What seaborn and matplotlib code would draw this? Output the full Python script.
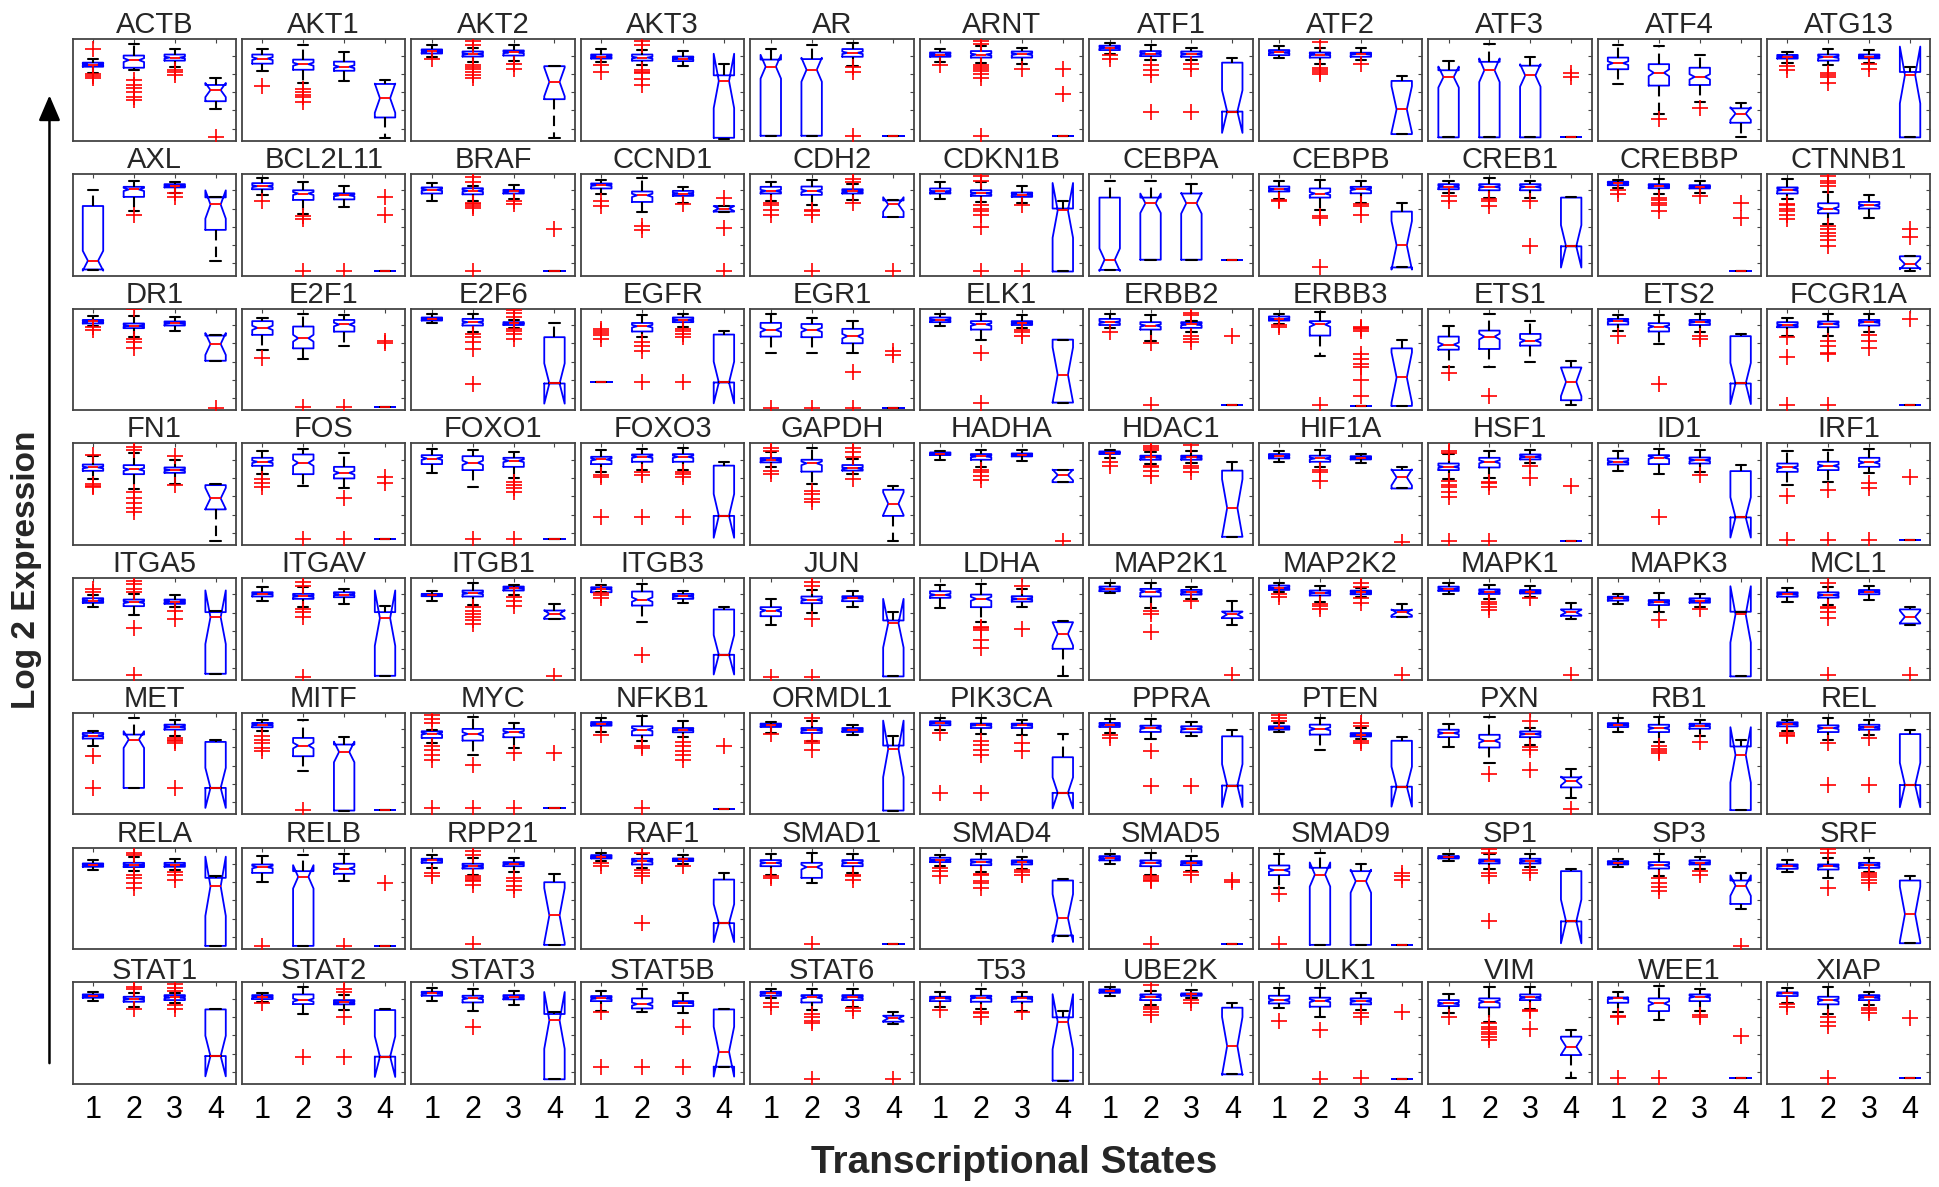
import matplotlib
matplotlib.use("Agg")
import matplotlib.pyplot as plt
from matplotlib.patches import FancyArrowPatch
import pandas as pd
import seaborn as sns

GENES = ["ACTB", "AKT1", "AKT2", "AKT3", "AR", "ARNT", "ATF1", "ATF2", "ATF3", "ATF4", "ATG13",
         "AXL", "BCL2L11", "BRAF", "CCND1", "CDH2", "CDKN1B", "CEBPA", "CEBPB", "CREB1", "CREBBP", "CTNNB1",
         "DR1", "E2F1", "E2F6", "EGFR", "EGR1", "ELK1", "ERBB2", "ERBB3", "ETS1", "ETS2", "FCGR1A",
         "FN1", "FOS", "FOXO1", "FOXO3", "GAPDH", "HADHA", "HDAC1", "HIF1A", "HSF1", "ID1", "IRF1",
         "ITGA5", "ITGAV", "ITGB1", "ITGB3", "JUN", "LDHA", "MAP2K1", "MAP2K2", "MAPK1", "MAPK3", "MCL1",
         "MET", "MITF", "MYC", "NFKB1", "ORMDL1", "PIK3CA", "PPRA", "PTEN", "PXN", "RB1", "REL",
         "RELA", "RELB", "RPP21", "RAF1", "SMAD1", "SMAD4", "SMAD5", "SMAD9", "SP1", "SP3", "SRF",
         "STAT1", "STAT2", "STAT3", "STAT5B", "STAT6", "T53", "UBE2K", "ULK1", "VIM", "WEE1", "XIAP"]

STATES = ["1", "2", "3", "4"]
# estimated number of cells per transcriptional state (sets the notch depth)
N_CELLS = [101, 101, 101, 13]

# five-number summaries (lower whisker, Q1, median, Q3, upper whisker), % of each panel's range
BOX_S1 = [
    (67, 73, 75, 77, 81), (69, 76, 81, 85, 90), (83, 86, 88, 90, 94), (78, 81, 83, 85, 90), (5, 5, 73, 80, 90.4),
    (78, 82.8, 85, 87, 90), (86, 89.4, 91.7, 93.7, 96), (81.8, 84.4, 87, 89.4, 93), (3.4, 3.4, 62.8, 69.5, 79),
    (56.4, 70.5, 76.5, 82, 94.6), (77, 81, 83, 84.6, 87),
    (5, 6, 14.6, 68.5, 84.4), (79, 85, 88, 91, 95.7), (73.5, 80.8, 84.4, 86.8, 91), (80.8, 85.8, 89, 90.7, 94),
    (73.5, 80.8, 83.4, 87.4, 91.7), (75, 80.8, 82.8, 85.8, 91.7), (5.6, 5.6, 15.6, 76.8, 92.7), (75, 82.8, 85, 87.7, 93.4),
    (81.8, 85, 87.7, 90, 93.4), (85.8, 89, 90.7, 92.4, 94.4), (75, 80.8, 84.4, 86.8, 95),
    (83.5, 85.5, 87.5, 89, 92.4), (59.7, 74.3, 81.2, 87.8, 91), (85.8, 88.4, 90, 91.4, 94.4), (27.4, 27.4, 27.4, 27.4, 27.4),
    (56.4, 72.6, 79.2, 86.1, 94.4), (83.5, 86.8, 89, 91.4, 95), (80.9, 84, 86.8, 90, 95), (85, 88.4, 90, 92.4, 95),
    (42.2, 59.7, 64.7, 72.6, 83.5), (78.5, 84.5, 88.1, 90, 94), (73.6, 81.8, 84, 86.8, 91),
    (64.6, 73.1, 76.4, 79.3, 87.9), (69.8, 78, 82, 85.9, 92.5), (70.5, 79.7, 85.2, 88.5, 95), (72.1, 79.7, 84.3, 86.9, 94),
    (76.5, 81.4, 83.7, 85.7, 91.2), (84, 88.6, 89.9, 91.2, 92.8), (85.7, 89.6, 90.9, 92.2, 93.8), (82, 85.3, 87.3, 89.6, 92.8),
    (64.6, 73.8, 77, 80.3, 89.2), (72.8, 79.3, 82, 85.2, 92.5), (59, 72.1, 76.4, 80.3, 92.8),
    (71.5, 75.7, 78, 80.3, 83.6), (78, 82, 84.6, 86.2, 91.8), (78, 82.3, 83.6, 84.6, 87.2), (86.2, 86.2, 89.5, 91.1, 93.8),
    (54.4, 62.6, 68.2, 71.5, 79.7), (70.5, 80.7, 83.6, 87.2, 93.4), (85.2, 87.2, 89.5, 91.8, 95), (86.2, 88.5, 90.5, 92.8, 95),
    (84.5, 87.5, 89.4, 91.7, 95.7), (74.6, 77.9, 80.2, 81.8, 84.2), (76.9, 81.8, 84.2, 86.1, 90),
    (67.9, 74.8, 77.7, 80.3, 82), (82, 85.9, 88.5, 90.2, 93.4), (70.5, 75.4, 79.7, 82, 83.6), (81.3, 87.5, 89.2, 91.1, 95),
    (80.3, 86.2, 87.9, 89.5, 90.8), (83, 87.9, 90.2, 91.8, 95), (80.3, 86.2, 88.5, 90.2, 94.1), (81, 83.6, 85.2, 86.9, 90.2),
    (66, 76.2, 80.2, 83.5, 89.1), (80.9, 86.1, 88.4, 90, 95), (81.8, 86.8, 89.1, 90.8, 93.4),
    (78.5, 81.2, 82.8, 84.5, 87.5), (66, 75.2, 80.9, 83.5, 91.7), (80.2, 85.1, 87.5, 89.1, 92.4), (86.8, 89.4, 91.1, 92.7, 94.4),
    (73.6, 81.8, 85.1, 87.8, 94), (81.8, 85.8, 87.5, 90.1, 92.7), (84.2, 87.5, 89.4, 91.7, 93.4), (60.4, 73, 77.9, 82.5, 94),
    (86.8, 89.4, 90.8, 91.7, 93.4), (80.9, 83.5, 85.1, 86.8, 88.4), (75.9, 79.2, 81.8, 83.5, 87.5),
    (81.6, 84.9, 86.6, 88.2, 90.2), (81, 83.6, 85.9, 87.5, 89.8), (82, 86.9, 89.2, 90.8, 95), (71.8, 81.6, 84.3, 86.6, 91.8),
    (84.3, 86.9, 89.2, 90.8, 93.4), (76.1, 81.6, 84.3, 85.9, 90.2), (86.6, 89.8, 91.5, 93.1, 95.7), (74.4, 79.3, 82.6, 86.9, 94.8),
    (69.5, 76.7, 79.3, 82.6, 88.5), (71.1, 80, 84.3, 85.2, 90.2), (80, 86.6, 89.2, 90.2, 94.8),
]
BOX_S2 = [
    (70, 72, 79.5, 84, 95), (57, 70, 75.5, 80, 94), (78, 83, 85.5, 88, 91), (74.5, 79, 82, 85, 89.5), (5, 5, 70, 80.5, 94.4),
    (77, 82, 85, 88.4, 93.4), (79.5, 83.4, 86, 88.4, 94.4), (75.5, 82, 85, 87, 91.7), (3.4, 3.4, 69.5, 77.8, 95),
    (26.8, 54.4, 67, 75.5, 93.6), (74.5, 79, 82.5, 85, 90),
    (63.6, 77.5, 84.8, 87.4, 93.4), (61, 74.5, 80.8, 84, 91.7), (73.5, 80, 83.4, 86, 88.4), (63, 72.5, 79, 82.8, 96),
    (69.5, 79.5, 83.4, 87.7, 94), (72.5, 78.5, 81, 84, 91.7), (15.6, 15.6, 71.2, 76.8, 93.4), (64.2, 76.8, 80.8, 85.8, 94.4),
    (76.8, 84, 87.4, 90, 95.7), (80.8, 86, 88, 90, 95), (50.3, 61.3, 66, 71.2, 82.5),
    (72, 80.9, 83.2, 85.5, 93), (51, 61, 71, 82.5, 94.4), (77.5, 83.5, 86.8, 90, 94.4), (72, 77.6, 82.8, 86, 94),
    (56.4, 72, 79.2, 85, 91), (69.6, 79.5, 84.5, 87.8, 95), (68.6, 79.5, 83.5, 86.8, 94), (53.1, 73.6, 84.5, 87.8, 96.7),
    (42.2, 60.4, 72.6, 78.5, 94.4), (65.3, 77.6, 82.5, 85.8, 94), (73.6, 81.8, 85.1, 87.5, 94.4),
    (55.1, 69.8, 74.4, 78.7, 90.2), (58, 69.8, 81, 89.2, 94.4), (57.4, 73.8, 81, 87.5, 93.4), (73.8, 82, 86.9, 89.2, 94.4),
    (60.3, 72.3, 80.5, 84, 96), (76.5, 84, 87.3, 89.6, 93.8), (79.8, 84, 86.3, 88, 92), (76.5, 82, 85.3, 88, 93.8),
    (65.6, 76.4, 82, 85.9, 92.5), (69.5, 79.7, 86.2, 88.5, 95), (62.3, 73.8, 78, 82, 93.4),
    (63.3, 72.5, 76.4, 79, 84), (71.5, 79.7, 82.3, 84.6, 91.8), (73.8, 82, 85.2, 87.9, 95), (56.7, 73.1, 79, 86.9, 94.4),
    (65.9, 75.4, 78.7, 82, 88.5), (56.7, 71.5, 79.7, 83.9, 94.4), (70.5, 82, 86.9, 89.5, 95), (76.4, 83, 85.6, 87.9, 92.8),
    (79.5, 84.5, 86.8, 89, 93.4), (67, 73.6, 76.2, 78.5, 85.1), (73.6, 80.9, 83.5, 86.1, 91.7),
    (26.2, 26.2, 73.8, 78.7, 95), (42.6, 57.4, 67.9, 75.4, 93.4), (59, 72.8, 79.3, 84.3, 95.7), (72.1, 78, 83.6, 86.9, 96.7),
    (72.8, 80.3, 83, 85.2, 91.8), (79.3, 85.2, 87.9, 89.5, 95), (74.4, 81.3, 85.2, 87.5, 94.1), (63.9, 78.7, 84.3, 88.5, 95),
    (51.2, 66, 72.6, 78.5, 96), (71, 81.2, 85.1, 88.4, 96), (72.9, 81.2, 85.1, 87.8, 95),
    (76.9, 80.9, 82.8, 85.1, 90.8), (3.3, 3.3, 71.3, 76.9, 92.7), (73.6, 79.5, 81.8, 84.2, 90.1), (80.2, 83.5, 86.8, 89.1, 93.4),
    (65.3, 70.3, 80.9, 85.1, 95), (75.9, 82.8, 85.8, 88.4, 94), (73.6, 81.8, 85.1, 87.5, 95), (4.3, 4.3, 73.6, 80.2, 95),
    (79.2, 84.5, 86.8, 88.4, 94), (72, 79.5, 82.8, 85.8, 93.4), (70.3, 78.5, 81.8, 83.5, 89.4),
    (76.1, 81, 83.6, 85.9, 89.8), (68.9, 78.7, 82.6, 88.2, 95.7), (71.8, 80.3, 84.3, 86.9, 93.4), (71.1, 74.4, 78.7, 84.3, 93.4),
    (72.8, 80.3, 85.2, 87.5, 93.4), (73.8, 81, 84.9, 86.9, 93.4), (77.7, 82.6, 85.9, 88.2, 91.5), (65.6, 76.1, 82, 85, 94.8),
    (61.3, 75.4, 81, 84.3, 95.7), (62.9, 71.8, 79.3, 84.3, 96.4), (68.9, 78.4, 82.6, 85.9, 95.7),
]
BOX_S3 = [
    (73, 79, 82, 85, 90), (59, 69, 73, 78, 87), (79, 84, 87, 89, 94), (74, 78.5, 81, 83, 88), (73.5, 82.8, 86.7, 90.4, 96),
    (76, 82, 85.4, 88, 91), (79.5, 82.8, 85.4, 88, 91.7), (79.5, 82.8, 85.4, 86.8, 91.7), (3.4, 3.4, 64.4, 74, 83),
    (38.6, 55, 63, 72, 85), (77, 81.2, 83, 85, 89),
    (81.8, 86.8, 88, 90, 92.4), (68, 75, 79, 81, 88.4), (75, 80.8, 82.8, 84.4, 89), (71.8, 78.5, 80.8, 83.4, 86.8),
    (74.5, 80.8, 82.8, 85, 90), (71.8, 77.5, 79.8, 81.8, 88.4), (15.6, 15.6, 71.2, 80.8, 90), (71.8, 81, 85, 87.4, 93.4),
    (76.8, 84, 87.4, 90, 93.4), (81, 85.8, 87.4, 89, 92.7), (56.3, 66, 69.2, 72.5, 79.5),
    (78.5, 83.5, 85.8, 87.5, 92), (63, 77.5, 84.5, 89, 93.4), (81.2, 84, 85.8, 86.8, 89), (82, 86.8, 89, 91.4, 95),
    (56.4, 66, 73, 80.2, 88.4), (80.9, 84, 86.1, 87.8, 93.4), (77, 81.2, 84.5, 86.8, 88.4), (4.3, 4.3, 4.3, 4.3, 4.3),
    (47.2, 63.7, 68.6, 75.2, 87.8), (77, 84, 86.8, 89, 95), (77, 83.5, 86.8, 89, 94.4),
    (59.7, 71.1, 73.8, 76.4, 83.6), (55.8, 65.6, 71.1, 77, 90.2), (65.6, 77, 83, 85.9, 91.8), (73.8, 82, 86.9, 89.5, 95.7),
    (70, 73.3, 75.6, 78.8, 84.7), (83, 87.3, 88.6, 90.2, 93.8), (80.5, 84, 86.3, 88, 92.8), (80.3, 84.3, 86, 87.5, 90),
    (80.3, 84.3, 86.9, 89.2, 93.4), (72.1, 80.3, 83.6, 86.2, 93.4), (70.5, 77, 81.3, 85.9, 95),
    (71.5, 74.8, 77, 79, 83), (74.8, 81.3, 83.9, 86.2, 89.5), (83.6, 87.9, 90.2, 91.8, 93.8), (75.4, 79.7, 82.3, 84.6, 87.9),
    (71.5, 77.4, 80.3, 82.3, 87.2), (71.5, 77, 79.7, 82.3, 89.5), (79.7, 83.9, 86.2, 88.5, 91.8), (81.8, 84.2, 86.1, 87.8, 90.8),
    (81.8, 85, 86.8, 88.4, 92.4), (72, 75.9, 77.9, 80.2, 84.2), (78.5, 84.2, 86.8, 88.4, 92.4),
    (77, 83.6, 86.2, 88.5, 93.4), (3.9, 3.9, 61.6, 68.9, 76.1), (65.6, 76.1, 81, 84.3, 90.2), (76.1, 81, 83.6, 85.2, 91.8),
    (78, 81.3, 83.6, 85.2, 88.5), (78.7, 85.2, 87.9, 89.5, 93.1), (77, 81, 84.3, 86.9, 90.8), (74.6, 76.9, 78.5, 80.2, 85.2),
    (68.6, 76.2, 79.2, 81.8, 85.2), (76.9, 84.5, 87.5, 89.4, 92.7), (77.9, 83.5, 85.8, 88.4, 93.4),
    (78.5, 81.2, 82.8, 85.1, 88.4), (67, 74.3, 79.5, 84.2, 94), (75.9, 81.8, 84.2, 85.8, 89.4), (84.2, 86.8, 88.4, 89.4, 92.4),
    (75.2, 81.8, 85.1, 87.8, 94), (79.2, 83.5, 85.8, 87.5, 90.8), (76.9, 82.8, 85.1, 86.8, 91.7), (4.3, 4.3, 67, 76.9, 84.2),
    (80.9, 84.5, 86.8, 89.1, 94), (79.5, 83.5, 85.1, 87.5, 90.8), (75.9, 80.2, 82.8, 85.1, 89.4),
    (80, 82.6, 85.2, 87.5, 89.8), (72.8, 78.4, 80.3, 82.6, 87.5), (77.7, 83.3, 85.2, 87.5, 91.8), (69.5, 76.7, 80, 81.6, 89.8),
    (76.1, 82.6, 85.2, 87.5, 93.4), (71.8, 81, 84.3, 85.9, 90.2), (84.3, 86.9, 88.2, 89.2, 92.5), (72.8, 78.4, 81.6, 84.3, 89.8),
    (73.4, 82.6, 85.2, 88.2, 95.7), (71.8, 81.6, 85.9, 88.2, 93.4), (77.7, 82.6, 85.2, 87.5, 90.8),
]
BOX_S4 = [
    (31, 39, 50, 55, 62), (3, 23, 42, 56, 60), (3, 41, 58, 73.5, 73.5), (2, 3, 59, 64.5, 75.5), (5, 5, 5, 5, 5),
    (5, 5, 5, 5, 5), (28.8, 28.8, 28.8, 77, 81.8), (6.6, 6.6, 31, 59, 64), (3.4, 3.4, 3.4, 3.4, 3.4),
    (4, 17.8, 26.8, 32, 37.6), (3.4, 3.4, 64.8, 67.8, 72.8),
    (14, 45, 70, 77, 77.5), (4.6, 4.6, 4.6, 4.6, 4.6), (4.6, 4.6, 4.6, 4.6, 4.6), (63, 63, 66, 68.5, 68.5),
    (57.6, 57.6, 70, 74, 74), (4, 4, 64.2, 66, 73.5), (15.6, 15.6, 15.6, 15.6, 15.6), (8, 8, 29.8, 63, 71),
    (28.8, 28.8, 28.8, 76.8, 77.5), (4.6, 4.6, 4.6, 4.6, 4.6), (4, 7.3, 11.3, 19, 19),
    (48.8, 48.8, 65.3, 73.6, 74), (3.6, 3.6, 3.6, 3.6, 3.6), (26.4, 26.4, 26.4, 72, 86), (27.4, 27.4, 27.4, 74.6, 78.5),
    (2.6, 2.6, 2.6, 2.6, 2.6), (7.6, 7.6, 35, 69.6, 69.6), (5, 5, 5, 5, 5), (4.3, 4.3, 32.3, 61, 69.3),
    (5, 9.9, 28, 42.2, 48.8), (26.4, 26.4, 26.4, 73, 75.2), (5, 5, 5, 5, 5),
    (4.3, 35.1, 45.9, 59, 59.7), (5.6, 5.6, 5.6, 5.6, 5.6), (5.6, 5.6, 5.6, 5.6, 5.6), (28.7, 28.7, 28.7, 78.2, 81.4),
    (4.2, 28.7, 40.7, 54.4, 57.7), (61.9, 61.9, 69, 74, 74.3), (8.1, 8.1, 36.5, 73.3, 82), (55.7, 55.7, 66.6, 73.8, 77),
    (4.3, 4.3, 4.3, 4.3, 4.3), (27.2, 27.2, 27.2, 72.8, 79.3), (4.9, 4.9, 4.9, 4.9, 4.9),
    (5.9, 5.9, 61.6, 66.6, 67.9), (3.9, 3.9, 60.7, 66.6, 72.5), (60, 60, 64.9, 68.2, 74.8), (24.6, 24.6, 24.6, 69.2, 71.5),
    (3.3, 3.3, 55.7, 58.4, 66.6), (3.3, 30.5, 45.2, 56.7, 57.7), (54.1, 60.7, 64.3, 67.2, 77.4), (62, 62, 66.3, 68.6, 74.3),
    (59.7, 63, 66.3, 69.3, 75.2), (3.3, 3.3, 64.4, 67, 67), (53.8, 55.4, 62, 69.3, 71.3),
    (26.2, 26.2, 26.2, 71.5, 73.1), (4.9, 4.9, 4.9, 4.9, 4.9), (6.6, 6.6, 6.6, 6.6, 6.6), (5.6, 5.6, 5.6, 5.6, 5.6),
    (3.9, 3.9, 64.6, 67.9, 77.7), (21.3, 21.3, 21.3, 56.4, 79.3), (28.5, 28.5, 28.5, 77, 83.6), (27.4, 27.4, 27.4, 72.6, 75.9),
    (16.5, 26.7, 33, 36.6, 44.9), (4.3, 4.3, 58.7, 67, 73), (29, 29, 29, 79.2, 82.8),
    (3.3, 3.3, 62, 70.3, 72), (3.3, 3.3, 3.3, 3.3, 3.3), (4.3, 4.3, 33.3, 66, 74.3), (25.7, 25.7, 25.7, 68.6, 75.2),
    (5, 5, 5, 5, 5), (13.5, 13.5, 30.7, 67.7, 69.6), (5, 5, 5, 5, 5), (4.3, 4.3, 4.3, 4.3, 4.3),
    (27.4, 27.4, 27.4, 76.9, 79.5), (39.9, 44.6, 62.7, 67.7, 75.2), (5.9, 5.9, 34.6, 67.7, 72.6),
    (27.5, 27.5, 27.5, 73.4, 73.4), (26.9, 26.9, 26.9, 72.8, 73.4), (4.6, 4.6, 62.6, 68.9, 71.1), (17, 17, 31.8, 73.4, 73.8),
    (58.7, 61.3, 64.6, 67.2, 70.5), (3.3, 3.3, 61.3, 65.6, 71.8), (9.5, 9.5, 37.4, 75.1, 79.3), (4.6, 4.6, 4.6, 4.6, 4.6),
    (6.2, 28.5, 36.7, 46.6, 53.1), (5.6, 5.6, 5.6, 5.6, 5.6), (5.6, 5.6, 5.6, 5.6, 5.6),
]

# outliers (red +) per gene and state
OUT_S1 = [
    [90, 66, 64, 62], [54], [81], [74.5, 68], [], [74.5], [84.4, 81], [], [], [], [73.8, 69.5],
    [], [73.5], [], [73.5, 68.5], [71.8, 69.5, 65, 60], [], [], [74.5, 73.5], [78.5, 73.5], [84, 80],
    [70.8, 69.5, 66, 63.6, 60, 56],
    [81.8, 79.5], [51.5], [], [80, 78, 76, 74, 70], [2.6], [], [77], [84, 81.8], [36.3], [73.6], [72, 52, 5],
    [89, 60, 58.5, 57.5], [64.6, 60.7, 56.7], [], [68.9, 67.2, 27.9], [96, 92.8, 73.3, 70], [], [81.4, 78.2], [],
    [92.5, 90.8, 63.3, 59, 56.7, 52.5, 47.5, 4.3], [], [48.5, 4.9],
    [89.5, 86.2], [], [], [85, 83, 81], [2.6], [], [], [84.6, 81.3], [], [], [],
    [57.4, 26.2], [77.7, 73.8, 70.5, 65.6, 62.3], [98.4, 94.4, 90.2, 67.2, 63.9, 59, 54, 6.6], [78.7], [79.3],
    [80.3, 21.3], [78.7, 75.4], [98.4, 95, 91.8], [], [], [80.2, 78.5, 76.9],
    [], [3.3], [75.2, 71.9], [85.1, 81.8], [72.6, 70.3], [80.2, 76.9, 72], [], [54.5, 5], [], [], [],
    [], [79.3], [], [71.1, 17], [80, 76.1], [72.8], [], [62], [65.6], [67.2, 66.2, 5.6], [78.4, 76.1],
]
OUT_S2 = [
    [60, 55, 52, 48, 43, 40], [51, 48, 45, 43, 38], [98, 94, 75, 73, 71, 68, 65, 62], [98, 94, 70, 68, 67, 61, 55], [],
    [98.7, 95, 74.5, 73, 71, 69, 66, 62, 5], [74.5, 69.5, 64.5, 28], [97, 72, 70, 68, 66], [], [21.8], [66.4, 65, 63, 57],
    [60], [58.6, 55.3, 4.6], [96.7, 91.7, 71.8, 70.5, 69, 67, 4.6], [48.7, 44.4], [65, 63.6, 60, 4.6],
    [98, 93.5, 69.5, 66, 63.6, 60, 47.7, 4.6], [], [58.6, 57, 8], [75, 73.5, 68.5], [76.8, 74, 71.8, 69.5, 63.6],
    [98.3, 93.4, 90.7, 88.4, 48.7, 45.4, 42, 38.7, 35.4, 28.8],
    [99.5, 70.3, 67, 61], [3.6], [75, 72, 67, 60.4, 25.7], [67, 63, 58.7, 27.4], [2.6], [56, 7], [66.3, 5], [5], [14.5],
    [25.7], [68.6, 63, 56.4, 55.4, 5],
    [96.7, 93.4, 52.5, 45.9, 41, 36.7, 32.8], [5.6], [5.6], [72, 68.9, 27.9], [53.7, 50.5, 45.6, 42.3],
    [74, 71.7, 68.4, 64.2], [97.7, 95.5, 94, 78.2, 76.5, 73.3, 68.4], [74, 71.7, 63.5], [62.3, 60.7, 57.4, 4.3], [27.2],
    [54, 4.9],
    [97.7, 94.4, 89.5, 86.9, 50.8, 4.3], [96, 92.8, 69.8, 66.6, 61.6, 2.6], [71.5, 68.2, 64.9, 61.6, 58.4, 55.1], [24.6],
    [96, 92.8, 60, 2.6], [52, 50.5, 49, 39, 31], [68.2, 64.9, 47], [74.8, 73.1, 69.8], [77, 74.3, 72, 68.6], [58.7],
    [95, 72, 70.3, 67, 60.4, 4.3],
    [], [4.9], [49.2, 6.6], [67.2, 65.6, 6.6], [95, 72.1, 70.5, 63.9], [72.1, 68.2, 63.9, 59, 21.3], [63, 28.5], [],
    [39.6], [67, 64.7, 62.7, 60.4], [70.3, 29],
    [95, 92.4, 73.6, 70.3, 65.3, 60.4], [], [96.7, 92.4, 71.9, 70.3, 68.6, 67, 63.7, 5], [95, 77.9, 75.2, 72.6, 25.7], [5],
    [74.3, 73, 67, 65.3, 60.4], [72.6, 70.3, 68.6, 67, 5], [], [98.3, 95, 75.2, 72, 27.7], [70.3, 65.3, 61.4, 57],
    [98.3, 94.5, 60.4],
    [95.7, 93.4, 73.4], [26.9], [55.7], [17], [68.9, 66.2, 62.3, 59.7, 4.6], [71.1, 69.5, 66.2],
    [97.4, 76.1, 73.4, 71.1, 67.9], [53.1, 4.6], [59.7, 56.4, 53.8, 51.5, 48.9, 45.9, 43.3], [5.6], [65.6, 61.3, 57, 5.6],
]
OUT_S3 = [
    [70, 68, 65], [], [76, 71], [], [72.8, 68, 5], [71], [76, 71, 28], [76], [], [32], [75.5, 70.5],
    [81, 77], [4.6], [73.5, 70], [70], [95, 91.7, 71.8], [69.5, 4.6], [], [70, 68.5, 60], [73.5, 29], [78.5], [],
    [], [3.6], [99, 96, 92, 80, 78.5, 75, 70], [80, 78, 75.5, 72, 27.4], [37.3, 2.6], [79.5, 77, 73.6],
    [96, 93.4, 73, 70.3, 67], [82, 81, 80, 78, 55, 51, 46, 43, 30, 14], [], [73.6, 70.3], [74.3, 68.6, 61],
    [87.9, 59], [45.9, 5.6], [62.3, 59, 55.7, 52.5, 5.6], [72, 69.8, 67.2, 27.9], [96, 91.2, 86.3, 65.1], [],
    [98.7, 78.2, 76, 71.7], [], [77.7, 65.6], [68.9], [61.3, 55.7, 4.9],
    [68.2, 60], [], [81.3, 78, 73], [], [], [92.8, 50.2], [78], [95, 91.7, 80.2, 75.2], [80.2], [69.3], [],
    [75.4, 73.8, 72.1, 70.5, 26.2], [], [60.7, 6.6], [71.1, 67.2, 62.9, 59, 54], [], [70.5, 63], [28.5],
    [90, 86.8, 71.9, 70.3], [91.7, 66, 63.7, 43.9], [71], [75.2, 29],
    [75.9, 73.6, 68.6], [3.3], [70.3, 67, 62, 58.7], [81.8], [73.6, 72, 68.6], [77.6, 75.9, 73.6], [75.9, 73.6], [],
    [78.5, 75.2], [76.9, 73.6], [74.6, 72.9, 71.3, 68.6, 65.3],
    [98.4, 94.1, 91.8, 77.7, 73.4], [93.1, 90.8, 66.2, 26.9], [], [56.4, 17], [75.1, 72.1], [71.1], [82.6, 79.3],
    [69.5, 66.2, 5.6], [72.8, 71.8, 53.8], [67.9, 65.6], [74.4, 72.8, 69.5],
]
OUT_S4 = [
    [4], [], [], [], [], [71, 46], [], [], [67, 63], [], [],
    [], [77, 60], [46], [76.8, 47, 4.6], [4.6], [], [], [], [], [71.8, 57], [45.4, 37.7],
    [2.6], [68.6, 66.3], [], [], [58, 54.5], [], [73], [], [], [], [90],
    [], [67.2, 60.7], [], [], [], [4.2], [], [3.3], [58], [], [67.2],
    [], [], [3.6], [], [], [], [4.3], [4.3], [4.3], [], [4.3],
    [], [], [60.7], [67.9], [], [], [], [], [5], [], [],
    [], [65.3], [], [], [], [], [68.6, 66.3], [75.2, 72, 67.7], [], [3.3], [],
    [], [], [], [], [4.6], [], [], [70.5], [], [47.2], [64.6],
]

BOXES = [BOX_S1, BOX_S2, BOX_S3, BOX_S4]
OUTLIERS = [OUT_S1, OUT_S2, OUT_S3, OUT_S4]


def expand(summary, n):
    """Sample of size n whose quartiles/extremes equal the five-number summary."""
    lo, q1, med, q3, hi = summary
    m = (n - 3) // 2
    return [lo] + [q1] * m + [med] + [q3] * m + [hi]


sns.set_theme(style="white")
plt.rcParams["font.family"] = ["Liberation Sans", "DejaVu Sans"]

fig, axes = plt.subplots(8, 11, figsize=(19.4, 11.87), dpi=100)
fig.subplots_adjust(left=0.0374, right=0.9951, top=0.9669, bottom=0.0868,
                    wspace=0.0367, hspace=0.327)

BLUE, RED = "#0000FF", "#FF0000"
for g, gene in enumerate(GENES):
    ax = axes.flat[g]
    rows = [(STATES[s], v) for s in range(4) for v in expand(BOXES[s][g], N_CELLS[s])]
    df = pd.DataFrame(rows, columns=["state", "value"])
    sns.boxplot(data=df, x="state", y="value", order=STATES, ax=ax, notch=True,
                whis=(0, 100), showfliers=False, fill=False, color=BLUE, width=0.5,
                linewidth=1.3,
                medianprops=dict(color=RED, linewidth=1.3),
                whiskerprops=dict(color="black", linewidth=1.5, linestyle=(0, (5, 3))),
                capprops=dict(color="black", linewidth=1.5))
    orows = [(STATES[s], v) for s in range(4) for v in OUTLIERS[s][g]]
    if orows:
        odf = pd.DataFrame(orows, columns=["state", "value"])
        sns.stripplot(data=odf, x="state", y="value", order=STATES, ax=ax, jitter=False,
                      marker="+", color=RED, size=11, linewidth=1.2, zorder=4)
    ax.set_xlim(-0.5, 3.5)
    ax.set_ylim(0, 100)
    ax.set_xlabel("")
    ax.set_ylabel("")
    ax.set_xticks(range(4))
    ax.set_xticklabels(STATES if g >= 77 else [])
    ax.set_yticks([12, 30, 48, 66, 84])
    ax.set_yticklabels([])
    ax.tick_params(direction="in", length=3, width=0.8, top=True, right=True,
                   color="#444444", labelsize=22, labelcolor="black", pad=8)
    for sp in ax.spines.values():
        sp.set_visible(True)
        sp.set_color("#444444")
        sp.set_linewidth(1.3)
    ax.set_title(gene, fontsize=21, pad=2.5)

fig.text(0.0139, 0.52, "Log 2 Expression", rotation=90, fontsize=24,
         fontweight="bold", ha="center", va="center")
fig.text(0.523, 0.02, "Transcriptional States", fontsize=28,
         fontweight="bold", ha="center", va="center")
fig.add_artist(FancyArrowPatch((0.0255, 0.102), (0.0255, 0.922), transform=fig.transFigure,
                               arrowstyle="-|>,head_length=0.7,head_width=0.3",
                               mutation_scale=22, color="black", lw=1.8))

fig.savefig("out.png", dpi=100)
